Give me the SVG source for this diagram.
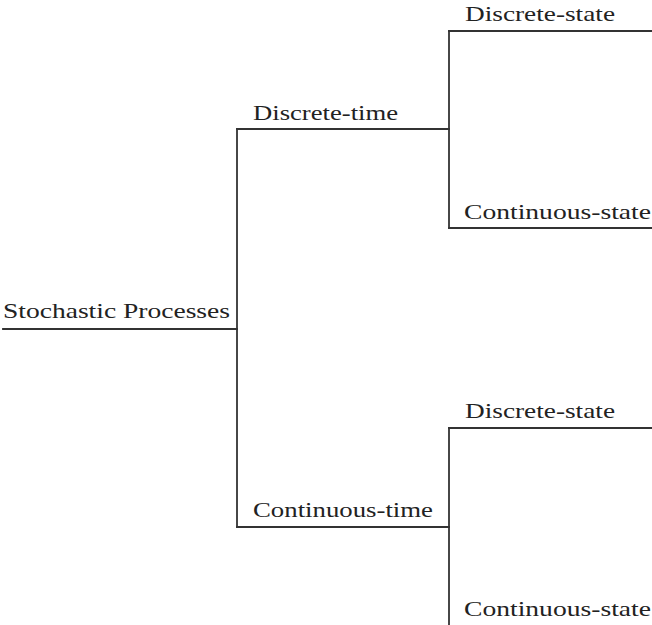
<svg xmlns="http://www.w3.org/2000/svg" width="652" height="625" viewBox="0 0 652 625">
  <style>
    .edge { fill: none; stroke: #333; stroke-width: 1.8; stroke-linecap: square; }
    .label { font-family: 'Liberation Serif', 'Times New Roman', serif; font-size: 22px; fill: #222; }
  </style>
  <rect width="652" height="625" fill="#fff"/>

  <!-- tree connectors -->
  <g id="connectors">
    <path class="edge" d="M3,329 H237"/>
    <path class="edge" d="M237,129 V527"/>
    <path class="edge" d="M237,129 H449"/>
    <path class="edge" d="M237,527 H449"/>
    <path class="edge" d="M449,31 V228"/>
    <path class="edge" d="M449,31 H653"/>
    <path class="edge" d="M449,228 H653"/>
    <path class="edge" d="M449,428 V627"/>
    <path class="edge" d="M449,428 H653"/>
    <path class="edge" d="M449,627 H653"/>
  </g>

  <g id="root">
    <text class="label" x="3" y="318" textLength="227" lengthAdjust="spacingAndGlyphs">Stochastic Processes</text>
  </g>
  <g id="discrete-time">
    <text class="label" x="253" y="120" textLength="145" lengthAdjust="spacingAndGlyphs">Discrete-time</text>
  </g>
  <g id="continuous-time">
    <text class="label" x="253" y="517" textLength="180" lengthAdjust="spacingAndGlyphs">Continuous-time</text>
  </g>
  <g id="dt-discrete-state">
    <text class="label" x="465" y="21" textLength="150" lengthAdjust="spacingAndGlyphs">Discrete-state</text>
  </g>
  <g id="dt-continuous-state">
    <text class="label" x="464" y="219" textLength="187" lengthAdjust="spacingAndGlyphs">Continuous-state</text>
  </g>
  <g id="ct-discrete-state">
    <text class="label" x="465" y="418" textLength="150" lengthAdjust="spacingAndGlyphs">Discrete-state</text>
  </g>
  <g id="ct-continuous-state">
    <text class="label" x="464" y="616" textLength="187" lengthAdjust="spacingAndGlyphs">Continuous-state</text>
  </g>
</svg>
